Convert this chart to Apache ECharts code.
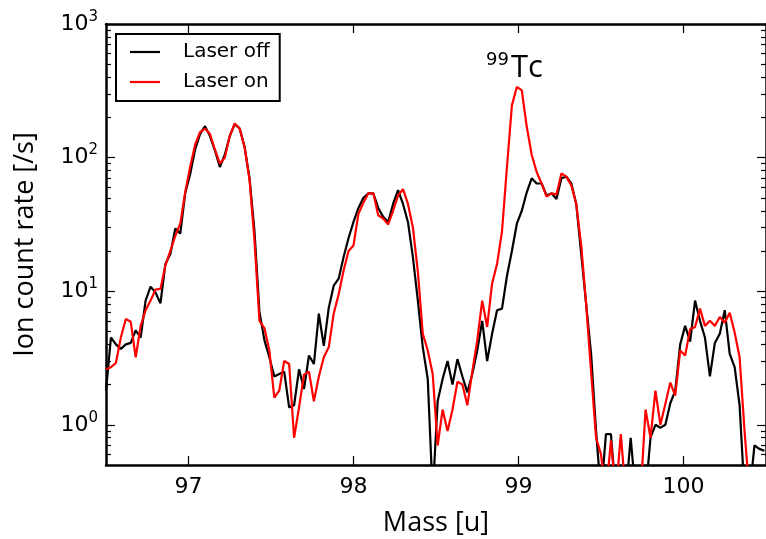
<!DOCTYPE html>
<html>
<head>
<meta charset="utf-8">
<script src="https://cdn.jsdelivr.net/npm/echarts@6/dist/echarts.min.js"></script>
<style>
  html, body { margin: 0; padding: 0; background: #fff; }
  #chart { width: 766px; height: 539px; }
</style>
</head>
<body>
<div id="chart"></div>
<script>
// 质量轴 (u)
var mass = [
  96.50, 96.53, 96.56, 96.59, 96.62, 96.65, 96.68, 96.71, 96.74, 96.77,
  96.80, 96.83, 96.86, 96.89, 96.92, 96.95, 96.98, 97.01, 97.04, 97.07,
  97.10, 97.13, 97.16, 97.19, 97.22, 97.25, 97.28, 97.31, 97.34, 97.37,
  97.40, 97.43, 97.46, 97.49, 97.52, 97.55, 97.58, 97.61, 97.64, 97.67,
  97.70, 97.73, 97.76, 97.79, 97.82, 97.85, 97.88, 97.91, 97.94, 97.97,
  98.00, 98.03, 98.06, 98.09, 98.12, 98.15, 98.18, 98.21, 98.24, 98.27,
  98.30, 98.33, 98.36, 98.39, 98.42, 98.45, 98.48, 98.51, 98.54, 98.57,
  98.60, 98.63, 98.66, 98.69, 98.72, 98.75, 98.78, 98.81, 98.84, 98.87,
  98.90, 98.93, 98.96, 98.99, 99.02, 99.05, 99.08, 99.11, 99.14, 99.17,
  99.20, 99.23, 99.26, 99.29, 99.32, 99.35, 99.38, 99.41, 99.44, 99.47,
  99.50, 99.53, 99.56, 99.59, 99.62, 99.65, 99.68, 99.71, 99.74, 99.77,
  99.80, 99.83, 99.86, 99.89, 99.92, 99.95, 99.98, 100.01, 100.04, 100.07,
  100.10, 100.13, 100.16, 100.19, 100.22, 100.25, 100.28, 100.31, 100.34, 100.37,
  100.40, 100.43, 100.46, 100.49
];
// Laser off 计数率 (/s)
var laserOff = [
  1.8, 4.5, 4.0, 3.7, 4.0, 4.1, 5.1, 4.5, 8.5, 10.8,
  9.8, 8.1, 16, 19, 29.5, 27, 54, 75, 115, 150,
  172, 145, 113, 85, 105, 145, 178, 165, 120, 70,
  28, 7, 4.3, 3.2, 2.3, 2.4, 2.5, 1.35, 1.4, 2.6,
  1.85, 3.3, 2.85, 6.8, 3.9, 7.5, 11, 12.4, 18, 25,
  33, 42, 50, 54, 54, 42, 36, 33, 45, 57,
  45, 33, 18, 8.5, 3.8, 2.2, 0.3, 1.5, 2.2, 3.0,
  2.0, 3.1, 2.3, 1.75, 2.4, 3.6, 6.0, 3.0, 4.8, 7.2,
  7.4, 13, 20, 32, 40, 55, 70, 64, 64, 52,
  54, 49, 70, 72, 64, 45, 19, 8, 3.4, 0.9,
  0.3, 0.85, 0.85, 0.3, 0.3, 0.3, 0.8, 0.3, 0.3, 0.3,
  0.8, 1.0, 0.95, 1.0, 1.45, 1.8, 4.0, 5.5, 4.2, 8.5,
  6.0, 4.5, 2.3, 4.1, 4.8, 7.2, 3.4, 2.7, 1.4, 0.3,
  0.3, 0.7, 0.66, 0.64
];
// Laser on 计数率 (/s)
var laserOn = [
  2.6, 2.7, 2.9, 4.5, 6.2, 5.9, 3.2, 5.5, 7.2, 8.5,
  10.3, 10.4, 15.6, 20, 26, 32, 55, 85, 125, 155,
  165, 150, 115, 90, 100, 145, 180, 165, 120, 68,
  24, 6, 5.3, 3.6, 1.6, 1.8, 3.0, 2.85, 0.8, 1.35,
  2.37, 2.5, 1.5, 2.3, 3.2, 3.8, 6.8, 9.5, 14.3, 20,
  22, 38, 46, 54, 54, 37, 35, 31.6, 40, 52,
  58, 45, 30, 14, 4.8, 3.6, 2.4, 0.7, 1.3, 0.9,
  1.3, 2.1, 2.0, 1.4, 2.5, 4.3, 8.5, 5.4, 11.4, 16,
  28, 85, 246, 338, 318, 170, 105, 78, 64, 51,
  54, 53, 76, 72, 62, 45, 22, 8, 2.5, 0.8,
  0.6, 0.3, 0.76, 0.3, 0.85, 0.3, 0.3, 0.3, 0.3, 1.3,
  0.8, 1.8, 1.0, 1.43, 2.07, 1.65, 3.6, 3.3, 5.2, 5.4,
  7.4, 5.5, 6.0, 5.5, 6.4, 5.8, 6.9, 4.9, 3.2, 0.9,
  0.3, 0.3, 0.3, 0.3
];
// 刻度
var massTicks = [97, 98, 99, 100];
var rateTicks = [1, 10, 100, 1000];
var rateMinorTicks = [0.6, 0.7, 0.8, 0.9, 2, 3, 4, 5, 6, 7, 8, 9,
  20, 30, 40, 50, 60, 70, 80, 90, 200, 300, 400, 500, 600, 700, 800, 900];

function zip(xs, ys) {
  return xs.map(function (x, i) { return [x, ys[i]]; });
}

var black = '#000';
var axisLine = { show: true, onZero: false, lineStyle: { color: black, width: 2.5 } };
// 图例里的细线
var lineIcon = 'path://M0,0 L30,0 L30,2.2 L0,2.2 Z';

function xAxis(pos, labels) {
  return {
    type: 'value', min: 96.5, max: 100.5, position: pos,
    axisLine: axisLine,
    axisTick: { show: true, inside: true, length: 9, customValues: massTicks, lineStyle: { color: black, width: 1.2 } },
    axisLabel: { show: labels, customValues: massTicks, margin: 11, color: black, fontSize: 22, fontFamily: 'DejaVu Sans' },
    splitLine: { show: false }
  };
}

function yAxis(pos, minor, labels) {
  return {
    type: 'log', logBase: 10, min: 0.5, max: 1000, position: pos,
    axisLine: minor ? { show: false } : axisLine,
    axisTick: {
      show: true, inside: true, length: minor ? 5 : 9,
      customValues: minor ? rateMinorTicks : rateTicks,
      lineStyle: { color: black, width: 1.2 }
    },
    axisLabel: {
      show: labels, customValues: rateTicks, margin: 8,
      formatter: function (v) { return '{b|10}{s|' + Math.round(Math.log10(v)) + '}'; },
      rich: {
        b: { fontSize: 22, fontFamily: 'DejaVu Sans', color: black },
        s: { fontSize: 15, fontFamily: 'DejaVu Sans', color: black, padding: [0, 0, 14, 0] }
      }
    },
    splitLine: { show: false }
  };
}

var bottomX = xAxis('bottom', true);
bottomX.name = 'Mass [u]';
bottomX.nameLocation = 'middle';
bottomX.nameGap = 45;
bottomX.nameTextStyle = { fontSize: 27, fontFamily: 'Open Sans', color: black };

var leftY = yAxis('left', false, true);
leftY.name = 'Ion count rate [/s]';
leftY.nameLocation = 'middle';
leftY.nameGap = 67;
leftY.nameTextStyle = { fontSize: 27, fontFamily: 'Open Sans', color: black };

var myChart = echarts.init(document.getElementById('chart'));
myChart.setOption({
  animation: false,
  grid: { left: 106, right: 0, top: 24, bottom: 74, outerBoundsMode: 'none' },
  legend: {
    left: 116, top: 34, orient: 'vertical',
    itemWidth: 30, itemHeight: 20, itemGap: 10,
    borderColor: black, borderWidth: 2, borderRadius: 0,
    padding: [8, 10, 9, 14],
    textStyle: { fontSize: 20, fontFamily: 'DejaVu Sans', color: black, padding: [0, 0, 0, 18] },
    data: [
      { name: 'Laser off', icon: lineIcon },
      { name: 'Laser on', icon: lineIcon }
    ]
  },
  xAxis: [bottomX, xAxis('top', false)],
  yAxis: [leftY, yAxis('left', true, false), yAxis('right', false, false), yAxis('right', true, false)],
  graphic: [{
    type: 'text', left: 486, top: 51,
    style: {
      text: '{s|99}{b|Tc}',
      rich: {
        s: { fontSize: 18, fontFamily: 'DejaVu Sans', fill: black, padding: [0, 0, 16, 0] },
        b: { fontSize: 31, fontFamily: 'Open Sans', fill: black, padding: [0, 0, 0, 2] }
      }
    }
  }],
  series: [
    {
      name: 'Laser off', type: 'line', data: zip(mass, laserOff),
      symbol: 'none', showSymbol: false, clip: true,
      lineStyle: { color: black, width: 2.2 }, itemStyle: { color: black }
    },
    {
      name: 'Laser on', type: 'line', data: zip(mass, laserOn),
      symbol: 'none', showSymbol: false, clip: true,
      lineStyle: { color: '#ff0000', width: 2.2 }, itemStyle: { color: '#ff0000' }
    }
  ]
});
</script>
</body>
</html>
